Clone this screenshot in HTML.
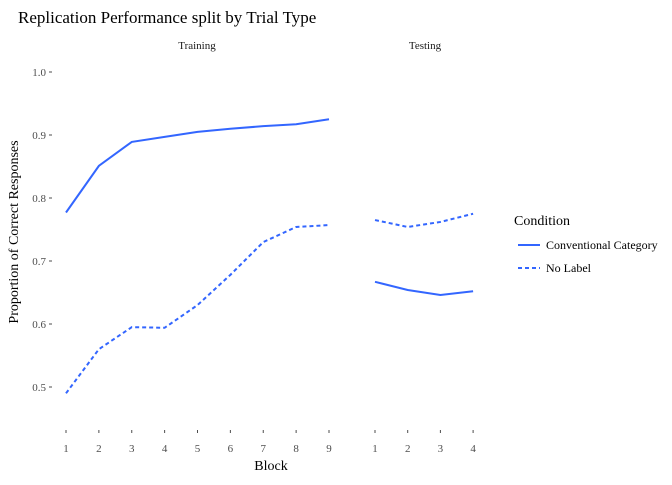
<!DOCTYPE html>
<html><head><meta charset="utf-8"><style>
body{margin:0;background:#fff;}
text{font-family:"Liberation Serif",serif;}
</style></head><body>
<svg id="chart" width="672" height="480" xmlns="http://www.w3.org/2000/svg">
<text x="18" y="23" font-size="17" fill="#000">Replication Performance split by Trial Type</text>
<text x="197" y="49" font-size="11" text-anchor="middle" fill="#1a1a1a">Training</text>
<text x="425" y="49" font-size="11" text-anchor="middle" fill="#1a1a1a">Testing</text>
<text x="271" y="470" font-size="14" text-anchor="middle" fill="#000">Block</text>
<text transform="translate(18,232) rotate(-90)" font-size="14" text-anchor="middle" fill="#000">Proportion of Correct Responses</text>
<g id="yaxis"></g><g id="xaxis"></g><g id="lines"></g>
<g>
<text x="514" y="225" font-size="14" fill="#000">Condition</text>
<line x1="518" y1="245" x2="540" y2="245" stroke="#3366FF" stroke-width="2"/>
<text x="546" y="249" font-size="12" fill="#000">Conventional Category</text>
<line x1="518" y1="268" x2="540" y2="268" stroke="#3366FF" stroke-width="2" stroke-dasharray="4,3"/>
<text x="546" y="272" font-size="12" fill="#000">No Label</text>
</g>
</svg>
<script>
const trainBlocks=[1,2,3,4,5,6,7,8,9];
const testBlocks=[1,2,3,4];
const trainConventional=[0.777,0.851,0.889,0.897,0.905,0.910,0.914,0.917,0.925];
const trainNoLabel=[0.490,0.560,0.595,0.594,0.630,0.678,0.730,0.754,0.757];
const testConventional=[0.667,0.654,0.646,0.652];
const testNoLabel=[0.765,0.754,0.762,0.775];
const yTicks=[0.5,0.6,0.7,0.8,0.9,1.0];
const yTickLabels=["0.5","0.6","0.7","0.8","0.9","1.0"];
const NS="http://www.w3.org/2000/svg";
const y=v=>72+(1.0-v)*630;
const xTrain=b=>66+(b-1)*32.875;
const xTest=b=>375+(b-1)*32.7;
const ya=document.getElementById('yaxis'),xa=document.getElementById('xaxis'),lg=document.getElementById('lines');
function mk(tag,attrs,parent){const e=document.createElementNS(NS,tag);for(const k in attrs)e.setAttribute(k,attrs[k]);parent.appendChild(e);return e;}
yTicks.forEach((v,i)=>{
 const t=mk('text',{x:46,y:y(v)+4,'font-size':11,'text-anchor':'end',fill:'#4d4d4d'},ya);t.textContent=yTickLabels[i];
 
 
 const l=mk('line',{x1:49,x2:52,y1:y(v),y2:y(v),stroke:'#4d4d4d'},ya);
 
 
});
function xt(blocks,fx){blocks.forEach(b=>{
 const l=mk('line',{x1:fx(b),x2:fx(b),y1:430,y2:433,stroke:'#4d4d4d'},xa);
 
 
 const t=mk('text',{x:fx(b),y:452,'font-size':11,'text-anchor':'middle',fill:'#4d4d4d'},xa);t.textContent=b;
 
 
});}
xt(trainBlocks,xTrain);xt(testBlocks,xTest);
function line(blocks,vals,fx,dash,name){
 const p=mk('polyline',{points:blocks.map((b,i)=>fx(b)+','+y(vals[i])).join(' '),fill:'none',stroke:'#3366FF','stroke-width':2},lg);
 if(dash)p.setAttribute('stroke-dasharray','4,3');
 
 
}
line(trainBlocks,trainConventional,xTrain,false,'line-training-conventional');
line(trainBlocks,trainNoLabel,xTrain,true,'line-training-no-label');
line(testBlocks,testConventional,xTest,false,'line-testing-conventional');
line(testBlocks,testNoLabel,xTest,true,'line-testing-no-label');
</script>
</body></html>
